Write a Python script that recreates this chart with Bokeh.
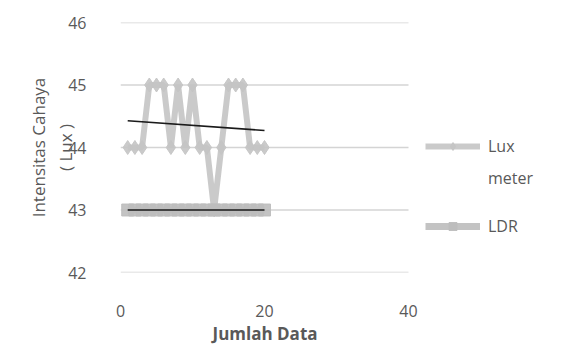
import numpy as np
from bokeh.plotting import figure
from bokeh.models import Legend, LegendItem, FixedTicker, Range1d, Title
from bokeh.embed import file_html
from bokeh.resources import INLINE

# data
x_data = list(range(1, 21))
lux_meter = [44, 44, 44, 45, 45, 45, 44, 45, 44, 45, 44, 44, 43, 44, 45, 45, 45, 44, 44, 44]
ldr = [43] * 20
x_ticks = [0, 20, 40]
y_ticks = [42, 43, 44, 45, 46]
x_axis_min, x_axis_max = 0, 40

FONT = "Open Sans"
TXT = "#595959"

# frame extends right so the legend can sit inside it; gridlines drawn only over 0..40
p = figure(width=580, height=344, output_backend="svg", toolbar_location=None,
           x_range=Range1d(0, 62.5), y_range=Range1d(42, 46),
           min_border_left=120, min_border_right=10, min_border_top=22, min_border_bottom=10)
p.outline_line_color = None
p.background_fill_color = "white"
p.border_fill_color = "white"
p.xgrid.grid_line_color = None
p.ygrid.grid_line_color = None

p.segment(x0=[x_axis_min] * len(y_ticks), x1=[x_axis_max] * len(y_ticks), y0=y_ticks, y1=y_ticks,
          line_color="#d4d4d4", line_width=1.5)

for ax in (p.xaxis[0], p.yaxis[0]):
    ax.axis_line_color = None
    ax.major_tick_line_color = None
    ax.minor_tick_line_color = None
    ax.major_label_text_font = FONT
    ax.major_label_text_font_size = "16px"
    ax.major_label_text_color = TXT
    ax.axis_label_text_font = FONT
    ax.axis_label_text_color = TXT
    ax.axis_label_text_font_size = "17px"
p.xaxis[0].ticker = FixedTicker(ticks=x_ticks)
p.yaxis[0].ticker = FixedTicker(ticks=y_ticks)
p.xaxis[0].major_label_standoff = 26
p.yaxis[0].major_label_standoff = 28
p.xaxis[0].axis_label = None
p.yaxis[0].axis_label = "Intensitas Cahaya\n( Lux )"
p.yaxis[0].axis_label_text_font_style = "normal"
p.yaxis[0].axis_label_standoff = -12

# x axis title, placed under the 0..40 span
p.add_layout(Title(text="Jumlah Data", align="left", offset=92, text_font=FONT,
                   text_font_size="17px", text_font_style="bold", text_color=TXT,
                   standoff=0), "below")

# series
lux_line = p.line(x_data, lux_meter, line_color="#c4c4c4", line_width=6, line_alpha=0.9)
lux_mark = p.scatter(x_data, lux_meter, marker="diamond", size=14, fill_color="#c4c4c4",
                     line_color="#c4c4c4", alpha=0.9)
ldr_line = p.line(x_data, ldr, line_color="#bdbdbd", line_width=7, line_alpha=0.9)
ldr_mark = p.scatter(x_data, ldr, marker="square", size=12, fill_color="#bdbdbd",
                     line_color="#bdbdbd", alpha=0.9)
blank = p.line([], [], line_alpha=0)

# linear trendlines (least squares, like Excel)
xa = np.array(x_data, dtype=float)
for series in (lux_meter, ldr):
    k, b = np.polyfit(xa, np.array(series, dtype=float), 1)
    p.line([xa[0], xa[-1]], [k * xa[0] + b, k * xa[-1] + b], line_color="#1a1a1a", line_width=1.6)


def make_legend(items, loc, spacing):
    lg = Legend(items=items, location=loc)
    lg.background_fill_alpha = 0
    lg.border_line_color = None
    lg.label_text_font = FONT
    lg.label_text_font_size = "16px"
    lg.label_text_color = TXT
    lg.glyph_width = 55
    lg.label_standoff = 8
    lg.spacing = spacing
    lg.padding = 0
    lg.margin = 0
    return lg


p.add_layout(make_legend([LegendItem(label="Lux", renderers=[lux_line, lux_mark]),
                          LegendItem(label="meter", renderers=[blank])], (305, 83), 10), "center")
p.add_layout(make_legend([LegendItem(label="LDR", renderers=[ldr_line, ldr_mark])], (305, 35), 0),
             "center")

open("out.html", "w").write(file_html(p, INLINE))
